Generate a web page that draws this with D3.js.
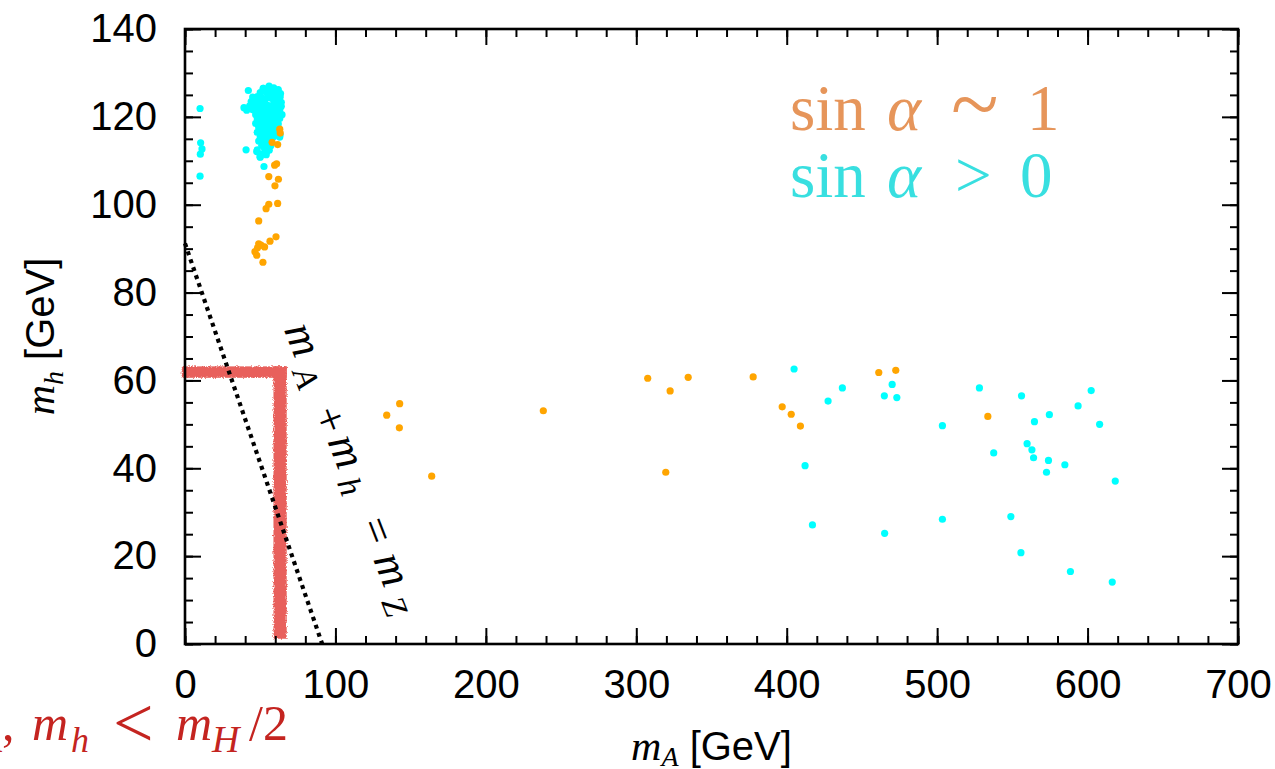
<!DOCTYPE html>
<html>
<head>
<meta charset="utf-8">
<script src="https://cdn.jsdelivr.net/npm/d3@7"></script>
<style>
  html, body { margin: 0; padding: 0; background: #fff; }
  svg { display: block; }
</style>
</head>
<body>
<svg id="chart" width="1275" height="769"></svg>
<script>
// Scan points in the (m_A, m_h) plane, in GeV: [m_A, m_h]
const sinAlphaOne = [
  [63.0,117.2],[63.3,116.3],[57.9,114.2],[61.6,113.7],[59.6,109.0],[60.9,109.3],
  [55.7,106.4],[62.1,105.8],[59.8,104.3],[55.7,100.1],[53.9,99.1],[61.6,100.3],
  [49.0,96.3],[60.5,92.7],[56.5,91.7],[49.0,91.1],[52.9,90.4],[46.5,89.3],
  [47.7,88.5],[51.8,86.9],[48.2,90.2],[50.5,90.8],
  [134.1,52.1],[142.7,54.7],[142.5,49.2],[164.0,38.2],[238.2,53.1],[307.6,60.5],
  [319.6,39.1],[322.5,57.6],[334.5,60.7],[377.7,60.8],[397.0,54.0],[403.0,52.3],
  [409.1,49.6],[461.2,61.8],[472.5,62.3],[533.7,51.8]
];

const sinAlphaPositive = [
  // low-m_A column
  [10.0,121.9],[10.4,114.1],[11.3,112.7],[10.2,111.5],[10.0,106.5],
  // dense cluster near m_A ~ 55 GeV
  [42.1,126.0],[55.9,127.0],[52.1,126.5],[62.0,125.5],[63.2,124.6],[39.2,122.1],
  [40.6,112.5],[47.7,112.1],[49.9,110.9],[52.5,108.7],[54.3,112.1],[46.5,123.1],[63.2,115.9],
  [52,126.5],[56,126.4],[59,126.6],[62,126.2],
  [50,125.5],[54,125.6],[58,125.4],[61,125.5],[63.5,125.3],
  [45,124.5],[48,124.6],[51,124.4],[55,124.5],[57,124.3],[60,124.6],[63,124.4],
  [44,123.5],[47,123.4],[50,123.6],[53,123.5],[59,123.4],[62,123.6],[64,123.3],
  [43,122.5],[46,122.6],[49,122.4],[52,122.5],[55,122.6],[58,122.4],[61,122.5],[64,122.4],
  [41,121.5],[45,121.6],[48,121.4],[51,121.5],[54,121.6],[57,121.4],[60,121.5],[63,121.6],
  [47,120.5],[50,120.6],[53,120.4],[56,120.5],[59,120.6],[62,120.4],[64.5,120.5],
  [48,119.5],[51,119.4],[54,119.6],[57,119.5],[60,119.4],[63,119.6],
  [47,118.5],[50,118.6],[53,118.4],[56,118.5],[59,118.6],[62,118.4],
  [49,117.5],[52,117.4],[55,117.6],[58,117.5],[61,117.4],
  [48,116.5],[51,116.6],[54,116.4],[57,116.5],[60,116.6],
  [50,115.5],[53,115.4],[56,115.6],[59,115.5],[63,115.4],
  [49,114.5],[52,114.6],[55,114.4],[57.5,114.5],
  [51,113.5],[54,113.6],[57,113.4],
  [48,112.5],[53,112.6],[56,112.4],
  [50,111.5],[54,111.4],[50,110.8],
  // heavy-A region
  [404.9,62.6],[437.0,58.3],[427.5,55.3],[470.1,59.1],[464.9,56.5],[473.2,56.1],
  [528.1,58.3],[503.5,49.7],[556.1,56.5],[602.4,57.7],[593.7,54.2],[574.6,52.2],
  [564.7,50.6],[608.0,50.0],[559.8,45.6],[563.0,44.2],[564.1,42.4],[537.6,43.5],
  [574.0,41.8],[584.9,40.8],[572.7,39.1],[618.4,37.1],[412.2,40.6],[417.1,27.1],
  [465.1,25.2],[503.5,28.4],[549.0,29.0],[555.7,20.8],[588.6,16.5],[616.4,14.1]
];

// Excluded strips where m_A or m_h sits near m_H/2 (GeV ranges)
const halfMassBands = [
  { mA: [-2.2, 67.6], mh: [60.6, 63.2] },
  { mA: [58.8, 67.6], mh: [1.2, 63.2] }
];

// Kinematic line m_A + m_h = m_Z
const mZ = 91.19;

const xMajorTicks = [0, 100, 200, 300, 400, 500, 600, 700];
const yMajorTicks = [0, 20, 40, 60, 80, 100, 120, 140];
const xMinorStep = 20;
const yMinorStep = 5;

// ---------------------------------------------------------------
const svg = d3.select("#chart");
const plotL = 185, plotR = 1238, plotT = 29, plotB = 644;

const x = d3.scaleLinear().domain([0, 700]).range([plotL, plotR]);
const y = d3.scaleLinear().domain([0, 140]).range([plotB, plotT]);

const defs = svg.append("defs");
const grain = defs.append("filter").attr("id", "grain")
  .attr("x", "-20%").attr("y", "-5%").attr("width", "140%").attr("height", "110%");
grain.append("feTurbulence").attr("type", "fractalNoise")
  .attr("baseFrequency", 0.9).attr("numOctaves", 2).attr("seed", 3).attr("result", "noise");
grain.append("feDisplacementMap").attr("in", "SourceGraphic").attr("in2", "noise")
  .attr("scale", 4).attr("xChannelSelector", "R").attr("yChannelSelector", "G");

// m_H/2 strips
svg.append("g").attr("filter", "url(#grain)")
  .selectAll("rect").data(halfMassBands).join("rect")
  .attr("x", d => x(d.mA[0]))
  .attr("y", d => y(d.mh[1]))
  .attr("width", d => x(d.mA[1]) - x(d.mA[0]))
  .attr("height", d => y(d.mh[0]) - y(d.mh[1]))
  .attr("fill", "#e8615b");

// Dotted line m_A + m_h = m_Z
svg.append("line")
  .attr("x1", x(0)).attr("y1", y(mZ))
  .attr("x2", x(mZ)).attr("y2", y(0))
  .attr("stroke", "#000").attr("stroke-width", 4.2)
  .attr("stroke-dasharray", "4,4.4");

// Scatter points
const pts = svg.append("g");
pts.selectAll("circle.pos").data(sinAlphaPositive).join("circle")
  .attr("class", "pos")
  .attr("cx", d => x(d[0])).attr("cy", d => y(d[1])).attr("r", 3.6)
  .attr("fill", "#00ffff");
pts.selectAll("circle.one").data(sinAlphaOne).join("circle")
  .attr("class", "one")
  .attr("cx", d => x(d[0])).attr("cy", d => y(d[1])).attr("r", 3.6)
  .attr("fill", "#ffa500");

// Axes: inward ticks on all four sides
const tickFont = "'Liberation Sans', Arial, Helvetica, sans-serif";
function styleAxis(g) {
  g.select(".domain").remove();
  g.selectAll(".tick line").attr("stroke", "#000").attr("stroke-width", 2);
  g.selectAll("text").attr("font-family", tickFont).attr("font-size", 40).attr("fill", "#000");
}
const xMinor = d3.range(0, 701, xMinorStep);
const yMinor = d3.range(0, 141, yMinorStep);

svg.append("g").attr("transform", `translate(0,${plotB})`)
  .call(d3.axisBottom(x).tickValues(xMinor).tickSize(-8).tickFormat(""))
  .call(styleAxis);
svg.append("g").attr("transform", `translate(0,${plotB})`)
  .call(d3.axisBottom(x).tickValues(xMajorTicks).tickSize(-16).tickPadding(26).tickFormat(d3.format("d")))
  .call(styleAxis);
svg.append("g").attr("transform", `translate(0,${plotT})`)
  .call(d3.axisTop(x).tickValues(xMinor).tickSize(-8).tickFormat(""))
  .call(styleAxis);
svg.append("g").attr("transform", `translate(0,${plotT})`)
  .call(d3.axisTop(x).tickValues(xMajorTicks).tickSize(-16).tickFormat(""))
  .call(styleAxis);

svg.append("g").attr("transform", `translate(${plotL},0)`)
  .call(d3.axisLeft(y).tickValues(yMinor).tickSize(-8).tickFormat(""))
  .call(styleAxis);
svg.append("g").attr("transform", `translate(${plotL},0)`)
  .call(d3.axisLeft(y).tickValues(yMajorTicks).tickSize(-16).tickPadding(28).tickFormat(d3.format("d")))
  .call(styleAxis);
svg.append("g").attr("transform", `translate(${plotR},0)`)
  .call(d3.axisRight(y).tickValues(yMinor).tickSize(-8).tickFormat(""))
  .call(styleAxis);
svg.append("g").attr("transform", `translate(${plotR},0)`)
  .call(d3.axisRight(y).tickValues(yMajorTicks).tickSize(-16).tickFormat(""))
  .call(styleAxis);

// Frame
svg.append("rect")
  .attr("x", plotL).attr("y", plotT)
  .attr("width", plotR - plotL).attr("height", plotB - plotT)
  .attr("fill", "none").attr("stroke", "#000").attr("stroke-width", 2.6);

// Axis titles
const mathFont = "'Liberation Serif', 'Times New Roman', serif";
const xt = svg.append("text")
  .attr("x", (plotL + plotR) / 2).attr("y", 760)
  .attr("text-anchor", "middle").attr("fill", "#000");
xt.append("tspan").attr("font-family", mathFont).attr("font-style", "italic").attr("font-size", 42).text("m");
xt.append("tspan").attr("font-family", mathFont).attr("font-style", "italic").attr("font-size", 28).attr("dy", 6).text("A");
xt.append("tspan").attr("font-family", tickFont).attr("font-size", 40).attr("dy", -6).text(" [GeV]");

const yt = svg.append("text")
  .attr("transform", `translate(54,${(plotT + plotB) / 2}) rotate(-90)`)
  .attr("text-anchor", "middle").attr("fill", "#000");
yt.append("tspan").attr("font-family", mathFont).attr("font-style", "italic").attr("font-size", 42).text("m");
yt.append("tspan").attr("font-family", mathFont).attr("font-style", "italic").attr("font-size", 28).attr("dy", 9).text("h");
yt.append("tspan").attr("font-family", tickFont).attr("font-size", 40).attr("dy", -9).text(" [GeV]");

// Legend
function legendLine(yBase, color, relation, value) {
  const t = svg.append("text").attr("y", yBase)
    .attr("font-family", mathFont).attr("font-size", 65).attr("fill", color);
  t.append("tspan").attr("x", 790).text("sin");
  t.append("tspan").attr("x", 887).attr("font-style", "italic").text("α");
  if (relation === "~") {
    t.append("tspan").attr("x", 951).attr("dy", 4).attr("font-size", 88).text("~");
    t.append("tspan").attr("x", 1027).attr("dy", -4).text(value);
  } else {
    t.append("tspan").attr("x", 955).text(relation);
    t.append("tspan").attr("x", 1020).text(value);
  }
}
legendLine(130, "#e6955a", "~", "1");
legendLine(197, "#38dfe0", ">", "0");

// Label along the dotted line, glyphs placed along the rotated baseline
const zl = svg.append("text")
  .attr("transform", "translate(285,332.5) rotate(68.8)")
  .attr("font-family", mathFont).attr("font-size", 45).attr("fill", "#000")
  .attr("text-anchor", "middle");
zl.append("tspan").attr("x", 13).attr("y", 0).attr("font-style", "italic").text("m");
zl.append("tspan").attr("x", 50).attr("y", 8).attr("font-style", "italic").attr("font-size", 33).text("A");
zl.append("tspan").attr("x", 97.6).attr("y", 4).text("+");
zl.append("tspan").attr("x", 133).attr("y", 0).attr("font-style", "italic").text("m");
zl.append("tspan").attr("x", 167).attr("y", 6).attr("font-style", "italic").attr("font-size", 33).text("h");
zl.append("tspan").attr("x", 217.7).attr("y", 0).text("=");
zl.append("tspan").attr("x", 259.5).attr("y", 0).attr("font-style", "italic").text("m");
zl.append("tspan").attr("x", 295).attr("y", 8).attr("font-style", "italic").attr("font-size", 33).text("Z");

// Red caption at the lower left (runs off the left edge)
const rc = svg.append("text").attr("y", 740)
  .attr("font-family", mathFont).attr("font-size", 50).attr("fill", "#c42420");
rc.append("tspan").attr("x", -56).attr("y", 740).attr("font-style", "italic").text("m");
rc.append("tspan").attr("x", -20).attr("y", 752).attr("font-style", "italic").attr("font-size", 36).text("A");
rc.append("tspan").attr("x", 2).attr("y", 740).text(",");
rc.append("tspan").attr("x", 32).attr("y", 740).attr("font-style", "italic").text("m");
rc.append("tspan").attr("x", 71).attr("y", 752).attr("font-style", "italic").attr("font-size", 36).text("h");
rc.append("tspan").attr("x", 113).attr("y", 747).attr("font-size", 72).text("<");
rc.append("tspan").attr("x", 176).attr("y", 740).attr("font-style", "italic").text("m");
rc.append("tspan").attr("x", 212).attr("y", 752).attr("font-style", "italic").attr("font-size", 38).text("H");
rc.append("tspan").attr("x", 249).attr("y", 740).text("/2");
</script>
</body>
</html>
